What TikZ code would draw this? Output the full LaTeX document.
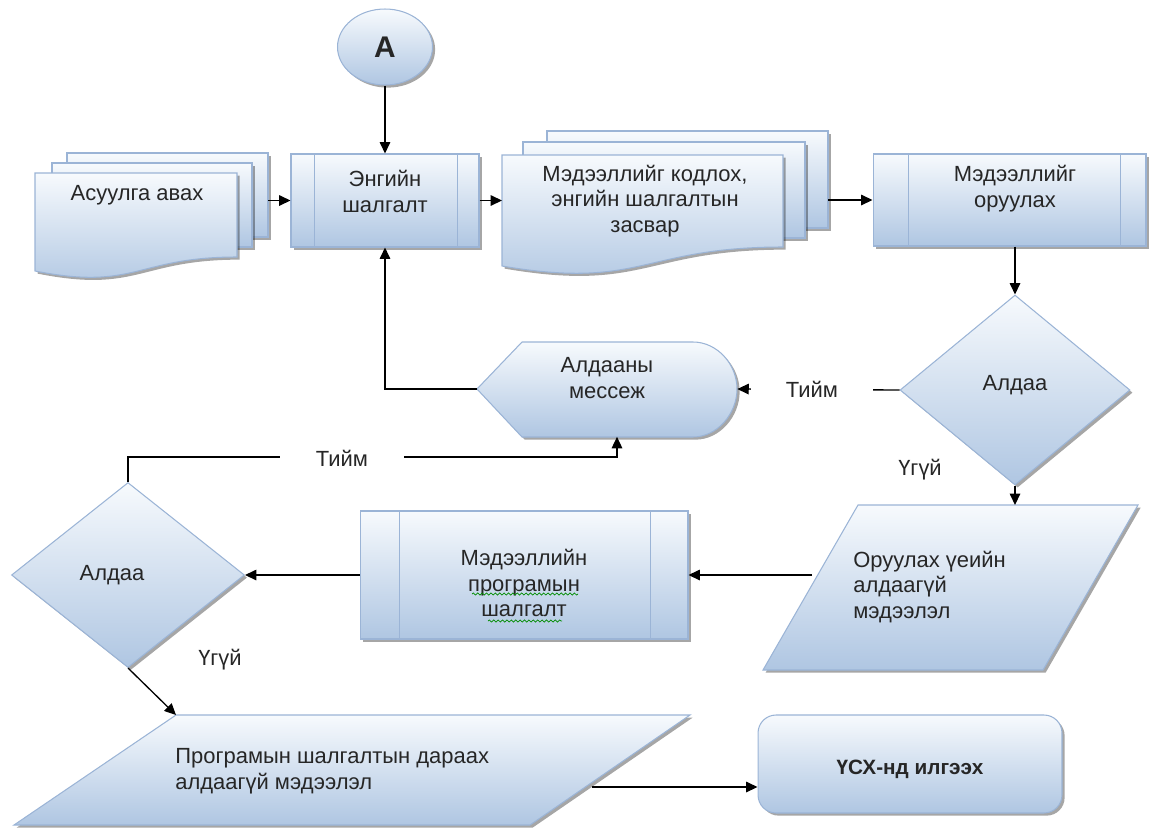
\documentclass[tikz,border=0pt]{standalone}
\usepackage{fontspec}
\setmainfont{Liberation Sans}
\usetikzlibrary{arrows.meta,shapes.geometric,shadows,decorations.pathmorphing}
\definecolor{ctop}{HTML}{F7FAFD}
\definecolor{cmid}{HTML}{DDE7F3}
\definecolor{cbot}{HTML}{AFC6E2}
\definecolor{bdr}{HTML}{9BB4D6}
\definecolor{txtc}{HTML}{262626}
\begin{document}
\begin{tikzpicture}[x=0.02cm,y=-0.02cm,
  shp/.style={draw=bdr, line width=0.6pt, top color=ctop, middle color=cmid, bottom color=cbot,
    drop shadow={shadow xshift=1.5pt,shadow yshift=-1.5pt,opacity=0.35,fill=black}},
  txt/.style={font=\fontsize{12.5}{14.7}\selectfont, text=txtc, align=center, inner sep=0pt},
  proc/.style={shp, rectangle, inner sep=0pt},
  arr/.style={draw=black, line width=0.75pt, -{Triangle[length=6.5pt,width=6pt]}},
  ln/.style={draw=black, line width=0.75pt},
  lbl/.style={txt, fill=white, minimum height=0.5cm},
  inner/.style={draw=bdr, line width=0.6pt},
  squig/.style={draw=green!55!black, line width=0.4pt, decorate,
    decoration={snake, amplitude=0.6pt, segment length=2.5pt}}]
\useasboundingbox (0,0) rectangle (1149,829);

% ---- connector A
\node[shp, ellipse, minimum width=1.9cm, minimum height=1.52cm, inner sep=0pt,
  font=\bfseries\fontsize{17}{17}\selectfont, text=txtc] (A) at (385,47) {A};

% ---- document stack 1
\path[shp] (67,153) rectangle (268,237);
\path[shp] (52,163) rectangle (252,247);
\path[shp] (35,173) -- (237,173) -- (237,257) .. controls (136,257) and (136,291) .. (35,271) -- cycle;
\node[txt] (doc1) at (137,195) {Асуулга авах};
\coordinate (doc1out) at (268,200.5);

% ---- box 1
\node[proc, minimum width=3.76cm, minimum height=1.86cm] (box1) at (385,200.5) {};
\draw[inner] ([xshift=0.48cm]box1.north west) -- ([xshift=0.48cm]box1.south west);
\draw[inner] ([xshift=-0.44cm]box1.north east) -- ([xshift=-0.44cm]box1.south east);
\node[txt] (box1t) at (385,191.5) {Энгийн\\шалгалт};

% ---- document stack 2
\path[shp] (547,131) rectangle (828,228);
\path[shp] (523,142) rectangle (805,238);
\path[shp] (502,155) -- (783,155) -- (783,247) .. controls (642,247) and (642,290) .. (502,266) -- cycle;
\node[txt] (doc2) at (645,201) {Мэдээллийг кодлох,\\энгийн шалгалтын\\засвар};
\coordinate (doc2in) at (502,200.5);
\coordinate (doc2out) at (828,200);

% ---- box 2
\node[proc, minimum width=5.46cm, minimum height=1.84cm] (box2) at (1009.5,200) {};
\draw[inner] ([xshift=0.72cm]box2.north west) -- ([xshift=0.72cm]box2.south west);
\draw[inner] ([xshift=-0.52cm]box2.north east) -- ([xshift=-0.52cm]box2.south east);
\node[txt] (box2t) at (1015,189) {Мэдээллийг\\оруулах};

% ---- diamond 1
\node[shp, diamond, minimum width=4.6cm, minimum height=3.8cm, inner sep=0pt] (d1) at (1015,390) {};
\node[txt] (d1t) at (1015,385) {Алдаа};

% ---- display (error message)
\path[shp] (477,389) -- (522,342) -- (693,342) .. controls (717,342) and (737,364) .. (737,389)
  .. controls (737,414) and (717,437) .. (693,437) -- (522,437) -- cycle;
\node[minimum width=5.2cm, minimum height=1.9cm, inner sep=0pt] (msg) at (607,389) {};
\node[txt] (msgt) at (607,378) {Алдааны\\мессеж};

% ---- parallelogram 1
\path[shp] (858,505) -- (1138,505) -- (1043,670) -- (763,670) -- cycle;
\node[txt, align=left, anchor=west] (p1) at (853,587) {Оруулах үеийн\\алдаагүй\\мэдээлэл};
\coordinate (p1top) at (1015,505);
\coordinate (p1in) at (812,575);

% ---- box 3
\node[proc, minimum width=6.56cm, minimum height=2.56cm] (box3) at (524,575) {};
\draw[inner] ([xshift=0.8cm]box3.north west) -- ([xshift=0.8cm]box3.south west);
\draw[inner] ([xshift=-0.76cm]box3.north east) -- ([xshift=-0.76cm]box3.south east);
\node[txt] (box3t) at (524,583) {Мэдээллийн\\програмын\\шалгалт};
\draw[squig] (472,594) -- (578,594);
\draw[squig] (488,621) -- (562,621);

% ---- diamond 2
\node[shp, diamond, minimum width=4.66cm, minimum height=3.7cm, inner sep=0pt] (d2) at (128,575) {};
\node[txt] (d2t) at (112,575) {Алдаа};

% ---- parallelogram 2
\path[shp] (176,715) -- (690,715) -- (530,825) -- (14,825) -- cycle;
\node[txt, align=left, anchor=west] (p2) at (175,771) {Програмын шалгалтын дараах\\алдаагүй мэдээлэл};
\coordinate (p2tl) at (176,715);
\coordinate (p2out) at (592,787);

% ---- terminal
\node[shp, rectangle, rounded corners=0.36cm, minimum width=6.08cm, minimum height=1.96cm, inner sep=0pt] (term) at (910,764) {};
\node[txt, font=\bfseries\fontsize{11.8}{14}\selectfont] (termt) at (910,769) {ҮСХ-нд илгээх};

% ---- connectors
\draw[arr] (A) -- (box1);
\draw[arr] (doc1out) -- (box1);
\draw[arr] (box1.east) -- (doc2in);
\draw[arr] (doc2out) -- (box2);
\draw[arr] (d1.north |- box2.south) -- (d1.north);
\draw[arr] (d1.west) -- node[lbl, minimum width=2.45cm, pos=0.54] (t1) {Тийм} (msg.east);
\draw[arr] (msg.west) -| (box1.south);
\draw[arr] (d2.north) -- ++(0,-25) -| ([xshift=0.2cm]msg.south);
\node[lbl, minimum width=2.5cm] (t2) at (342,458) {Тийм};
\draw[arr] (d1.south) -- (p1top);
\node[txt] (n1) at (920,470) {Үгүй};
\draw[arr] (p1in) -- (box3);
\draw[arr] (box3) -- (d2);
\draw[arr] (d2.south) -- (p2tl);
\node[txt] (n2) at (220,660) {Үгүй};
\draw[arr] (p2out) -- (p2out -| term.west);
\end{tikzpicture}
\end{document}
